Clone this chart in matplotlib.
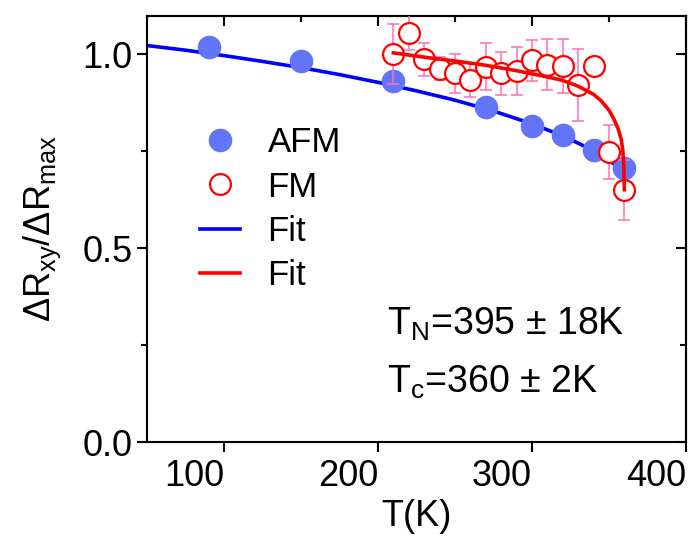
import numpy as np
import matplotlib.pyplot as plt
from matplotlib.lines import Line2D
from matplotlib.ticker import MultipleLocator

plt.rcParams['font.family'] = ['Liberation Sans', 'DejaVu Sans']
plt.rcParams['mathtext.fontset'] = 'custom'
plt.rcParams['mathtext.rm'] = 'Liberation Sans'
plt.rcParams['mathtext.it'] = 'Liberation Sans'

# AFM data (filled blue circles)
afm_T = [90, 150, 210, 270, 300, 320, 340, 360]
afm_val = [1.020, 0.984, 0.931, 0.864, 0.815, 0.791, 0.753, 0.707]
afm_err = [0.012, 0.012, 0.012, 0.012, 0.012, 0.012, 0.012, 0.012]

# FM data (open red circles)
fm_T = [210, 220, 230, 240, 250, 260, 270, 280, 290, 300, 310, 320, 330, 340, 350, 360]
fm_val = [1.002, 1.056, 0.987, 0.963, 0.951, 0.934, 0.968, 0.951, 0.957, 0.985,
          0.974, 0.970, 0.921, 0.970, 0.748, 0.651]
fm_err = [0.077, 0.045, 0.043, 0.030, 0.050, 0.043, 0.061, 0.055, 0.062, 0.053,
          0.067, 0.069, 0.092, 0.020, 0.070, 0.077]

# fit curves
afm_fit_T = [50, 75, 100, 125, 150, 175, 200, 225, 250, 275, 300, 320, 340, 350, 360]
afm_fit_val = [1.023, 1.011, 0.997, 0.982, 0.966, 0.948, 0.928, 0.906, 0.882,
               0.854, 0.821, 0.790, 0.752, 0.728, 0.695]
fm_fit_T = [210, 230, 250, 270, 290, 310, 320, 330, 340, 345, 350, 353, 356,
            358, 359, 359.6, 360]
fm_fit_val = [1.004, 0.993, 0.983, 0.972, 0.958, 0.942, 0.933, 0.918, 0.897,
              0.880, 0.856, 0.835, 0.808, 0.780, 0.752, 0.715, 0.651]

fs = 26
blue_pt = '#6275f9'
pink = '#ff6eb4'

fig = plt.figure(figsize=(6.92, 5.37), dpi=100)
ax = fig.add_axes([0.2124, 0.1769, 0.7789, 0.7939])

ax.plot(afm_fit_T, afm_fit_val, color='#0000ff', lw=2.6, zorder=2)
ax.errorbar(afm_T, afm_val, yerr=afm_err, fmt='none', ecolor='#9aa8ff',
            elinewidth=1, capsize=4, zorder=3)
ax.plot(afm_T, afm_val, 'o', color=blue_pt, ms=17, mec='none', zorder=3)

ax.errorbar(fm_T, fm_val, yerr=fm_err, fmt='none', ecolor=pink,
            elinewidth=1.1, capsize=4, capthick=1.1, zorder=4)
ax.plot(fm_T, fm_val, 'o', mfc='white', mec='#ff0000', mew=1.6, ms=15, zorder=5)
ax.plot(fm_fit_T, fm_fit_val, color='#ff0000', lw=2.6, zorder=6)

ax.set_xlim(50, 400)
ax.set_ylim(0, 1.1)
ax.xaxis.set_major_locator(MultipleLocator(100))
ax.xaxis.set_minor_locator(MultipleLocator(50))
ax.yaxis.set_major_locator(MultipleLocator(0.5))
ax.yaxis.set_minor_locator(MultipleLocator(0.25))
ax.yaxis.set_major_formatter(plt.FuncFormatter(lambda v, p: f'{v:.1f}'))

for s in ax.spines.values():
    s.set_linewidth(1.5)
ax.tick_params(which='major', direction='out', length=7, width=1.5, labelsize=fs)
ax.tick_params(which='minor', direction='out', length=4, width=1.5)
ax.tick_params(axis='x', which='minor', bottom=False)
ax.tick_params(axis='x', pad=5)
# x tick labels sit to the left of their ticks, as in the original
for lab in ax.get_xticklabels():
    lab.set_horizontalalignment('right')

top = ax.secondary_xaxis('top')
top.xaxis.set_major_locator(MultipleLocator(100))
top.xaxis.set_minor_locator(MultipleLocator(50))
top.tick_params(which='major', direction='in', length=7, width=1.5, labeltop=False)
top.tick_params(which='minor', direction='in', length=4, width=1.5)
top.spines['top'].set_linewidth(1.5)
right = ax.secondary_yaxis('right')
right.yaxis.set_major_locator(MultipleLocator(0.5))
right.yaxis.set_minor_locator(MultipleLocator(0.25))
right.tick_params(which='major', direction='in', length=7, width=1.5, labelright=False)
right.tick_params(which='minor', direction='in', length=4, width=1.5)
right.spines['right'].set_linewidth(1.5)

ax.set_xlabel('T(K)', fontsize=fs, labelpad=4)
ax.set_ylabel(r'$\Delta$R$_{\mathrm{xy}}$/$\Delta$R$_{\mathrm{max}}$', fontsize=fs, labelpad=14)

ax.text(0.445, 0.275, r'T$_{\mathrm{N}}$=395 $\pm$ 18K', transform=ax.transAxes,
        fontsize=fs + 1, va='center')
ax.text(0.445, 0.14, r'T$_{\mathrm{c}}$=360 $\pm$ 2K', transform=ax.transAxes,
        fontsize=fs + 1, va='center')

handles = [
    Line2D([], [], ls='none', marker='o', color=blue_pt, ms=17, mec='none'),
    Line2D([], [], ls='none', marker='o', mfc='white', mec='#ff0000', mew=1.6, ms=15),
    Line2D([], [], color='#0000ff', lw=2.6),
    Line2D([], [], color='#ff0000', lw=2.6),
]
ax.legend(handles, ['AFM', 'FM', 'Fit', 'Fit'], loc='upper left',
          bbox_to_anchor=(0.098, 0.741), frameon=False, fontsize=fs - 1,
          handlelength=1.15, handletextpad=0.8, labelspacing=0.33,
          borderpad=0, borderaxespad=0)

fig.savefig('out.png', dpi=100)
